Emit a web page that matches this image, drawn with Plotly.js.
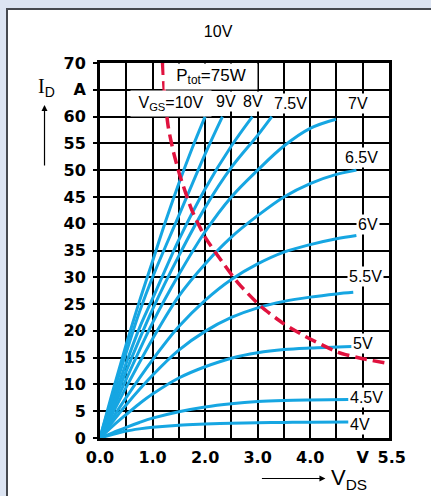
<!DOCTYPE html>
<html>
<head>
<meta charset="utf-8">
<script src="https://cdn.plot.ly/plotly-3.0.1.min.js"></script>
<style>
  html, body { margin: 0; padding: 0; width: 431px; height: 496px; overflow: hidden; background: #dce4f2; }
  #panel { position: absolute; left: 6px; top: 8px; width: 440px; height: 500px; background: #ffffff;
           border-left: 2px solid #46494f; border-top: 2px solid #46494f; }
  #chart { position: absolute; left: 0; top: 0; width: 431px; height: 496px; }
</style>
</head>
<body>
<div id="panel"></div>
<div id="chart"></div>
<script>
// ---- data ----
const vgs10_v = [0, 0.25, 0.5, 0.75, 1.0, 1.25, 1.5, 1.75, 2.0];
const vgs10_i = [0, 9, 17.5, 25.5, 33, 40.5, 47.5, 54, 60];
const vgs9_v = [0, 0.25, 0.5, 0.75, 1.0, 1.5, 2.0, 2.33];
const vgs9_i = [0, 8.3, 16, 23.5, 30, 41.5, 53, 60];
const vgs8_v = [0, 0.25, 0.5, 0.75, 1.0, 1.5, 2.0, 2.5, 2.9];
const vgs8_i = [0, 7.2, 14, 20.5, 26, 37, 46.5, 54.5, 60];
const vgs75_v = [0, 0.5, 1.0, 1.5, 2.0, 2.5, 3.0, 3.27];
const vgs75_i = [0, 12.5, 24, 34, 43, 50.5, 56.5, 60];
const vgs7_v = [0, 0.5, 1.0, 1.5, 2.0, 2.5, 3.0, 3.5, 4.0, 4.49];
const vgs7_i = [0, 11, 21.5, 30.5, 38.5, 45, 50, 54.5, 57.8, 59.5];
const vgs65_v = [0, 0.5, 1.0, 1.5, 2.0, 2.5, 3.0, 3.5, 4.0, 4.5, 4.88];
const vgs65_i = [0, 9.5, 18.5, 26.5, 32.5, 37.5, 41.5, 45, 47.5, 49.2, 50];
const vgs6_v = [0, 0.5, 1.0, 1.5, 2.0, 2.5, 3.0, 3.5, 4.0, 4.5, 4.88];
const vgs6_i = [0, 7.6, 14.6, 20.8, 25.7, 29.6, 32.5, 34.7, 36.1, 37.2, 37.8];
const vgs55_v = [0, 0.5, 1.0, 1.5, 2.0, 2.5, 3.0, 3.5, 4.0, 4.5, 4.82];
const vgs55_i = [0, 6.2, 11.7, 16.4, 19.9, 22.5, 24.3, 25.5, 26.3, 26.9, 27.2];
const vgs5_v = [0, 0.25, 0.5, 0.75, 1.0, 1.5, 2.0, 2.5, 3.0, 3.5, 4.0, 4.79];
const vgs5_i = [0, 2.3, 4.4, 6.4, 8.2, 11.2, 13.3, 14.9, 15.9, 16.5, 16.8, 17.1];
const vgs45_v = [0, 0.25, 0.5, 0.75, 1.0, 1.5, 2.0, 2.5, 3.0, 3.5, 4.0, 4.73];
const vgs45_i = [0, 1.0, 2.0, 2.9, 3.7, 4.9, 5.8, 6.4, 6.8, 7.0, 7.1, 7.2];
const vgs4_v = [0, 0.25, 0.5, 0.75, 1.0, 1.5, 2.0, 2.5, 3.0, 3.5, 4.0, 4.73];
const vgs4_i = [0, 0.7, 1.3, 1.7, 2.0, 2.4, 2.6, 2.75, 2.85, 2.9, 2.95, 3.0];
const ptot_v = [1.19, 1.23, 1.3, 1.4, 1.52, 1.75, 2.0, 2.28, 2.63, 3.07, 3.5, 3.9, 4.53, 5.0, 5.5];
const ptot_i = [70, 64, 58, 53.3, 49, 42.5, 37.5, 33.5, 28.9, 24.5, 21.3, 19, 16, 14.8, 13.9];

const xTickVals = [0, 0.5, 1.0, 1.5, 2.0, 2.5, 3.0, 3.5, 4.0, 4.5, 5.0, 5.5];
const xTickText = ["0.0", "", "1.0", "", "2.0", "", "3.0", "", "4.0", "", "V", "\u00a05.5"];
const yTickVals = [0, 5, 10, 15, 20, 25, 30, 35, 40, 45, 50, 55, 60, 65, 70];
const yTickText = ["0", "5", "10", "15", "20", "25", "30", "35", "40", "45", "50", "55", "60", "A", "70"];

const curveLabels = ["V<sub>GS</sub>=10V", "9V", "8V", "7.5V", "7V", "6.5V", "6V", "5.5V", "5V", "4.5V", "4V"];
const curveLabelX = [1.36, 2.39, 2.91, 3.63, 4.91, 4.98, 5.1, 5.06, 5.0, 5.08, 4.94];
const curveLabelY = [62.5, 62.8, 62.8, 62.5, 62.5, 52.4, 39.9, 30.2, 17.6, 7.6, 2.6];
const ptotLabel = "P<sub>tot</sub>=75W";

// ---- drawing ----
const BLUE = "#16a6e2";
const RED = "#e0123e";
const SANS = "Liberation Sans, Arial, sans-serif";

const series = [
  [vgs10_v, vgs10_i], [vgs9_v, vgs9_i], [vgs8_v, vgs8_i], [vgs75_v, vgs75_i],
  [vgs7_v, vgs7_i], [vgs65_v, vgs65_i], [vgs6_v, vgs6_i], [vgs55_v, vgs55_i],
  [vgs5_v, vgs5_i], [vgs45_v, vgs45_i], [vgs4_v, vgs4_i]
];

const traces = series.map(s => ({
  x: s[0], y: s[1], type: "scatter", mode: "lines",
  line: { color: BLUE, width: 3, shape: "spline", smoothing: 1 },
  hoverinfo: "skip"
}));
traces.push({
  x: ptot_v, y: ptot_i, type: "scatter", mode: "lines",
  line: { color: RED, width: 3.5, dash: "12px,6px", shape: "spline", smoothing: 0.6 },
  hoverinfo: "skip"
});

const annotations = curveLabels.map((t, k) => ({
  x: curveLabelX[k], y: curveLabelY[k], xref: "x", yref: "y",
  text: t, showarrow: false, xanchor: "center", yanchor: "middle",
  bgcolor: "#ffffff", borderpad: 1,
  font: { family: SANS, size: 16, color: "#000" }
}));
annotations[0].width = 78; annotations[0].height = 23;
annotations.push({
  x: 2.11, y: 67.5, xref: "x", yref: "y", text: ptotLabel, showarrow: false,
  xanchor: "center", yanchor: "middle", bgcolor: "#ffffff", width: 90, height: 23,
  font: { family: SANS, size: 17, color: "#000" }
});
// axis titles
annotations.push({
  xref: "paper", yref: "paper", x: -0.185, y: 0.935, xanchor: "center", yanchor: "middle",
  text: "<span style='font-family:Liberation Serif'>I</span><sub>D</sub>", showarrow: false,
  font: { family: SANS, size: 20, color: "#000" }
});
annotations.push({
  xref: "paper", yref: "paper", x: -0.192, y: 0.888, ax: 0, ay: 62,
  text: "", showarrow: true, arrowhead: 2, arrowsize: 1, arrowwidth: 1.2, arrowcolor: "#000"
});
annotations.push({
  xref: "paper", yref: "paper", x: 0.78, y: -0.108, ax: -65, ay: 0,
  text: "", showarrow: true, arrowhead: 2, arrowsize: 1, arrowwidth: 1.2, arrowcolor: "#000"
});
annotations.push({
  xref: "paper", yref: "paper", x: 0.792, y: -0.067, xanchor: "left", yanchor: "top",
  text: "V<sub>DS</sub>", showarrow: false,
  font: { family: SANS, size: 22, color: "#000" }
});

const tickFont = { family: "DejaVu Sans, sans-serif", size: 16, color: "#000", weight: "bold" };

const layout = {
  width: 431, height: 496,
  margin: { l: 100, r: 42, t: 63, b: 58 },
  paper_bgcolor: "rgba(0,0,0,0)",
  plot_bgcolor: "#ffffff",
  showlegend: false,
  title: {
    text: "10V", xref: "container", yref: "container", x: 0.506, y: 0.937,
    xanchor: "center", yanchor: "middle",
    font: { family: SANS, size: 16, color: "#000" }
  },
  xaxis: {
    range: [0, 5.5], tickmode: "array", tickvals: xTickVals, ticktext: xTickText,
    showgrid: true, gridcolor: "#000", gridwidth: 2, zeroline: false,
    showline: true, linecolor: "#000", linewidth: 3, mirror: true,
    ticks: "", tickangle: 0, tickfont: tickFont, ticklabelstandoff: 3, fixedrange: true
  },
  yaxis: {
    range: [0, 70], tickmode: "array", tickvals: yTickVals, ticktext: yTickText,
    showgrid: true, gridcolor: "#000", gridwidth: 2, zeroline: false,
    showline: true, linecolor: "#000", linewidth: 3, mirror: true,
    ticks: "outside", ticklen: 4, tickwidth: 2, tickcolor: "#000",
    tickfont: tickFont, ticklabelstandoff: 4, fixedrange: true
  },
  annotations: annotations
};

Plotly.newPlot("chart", traces, layout, { staticPlot: true, displayModeBar: false });
</script>
</body>
</html>
